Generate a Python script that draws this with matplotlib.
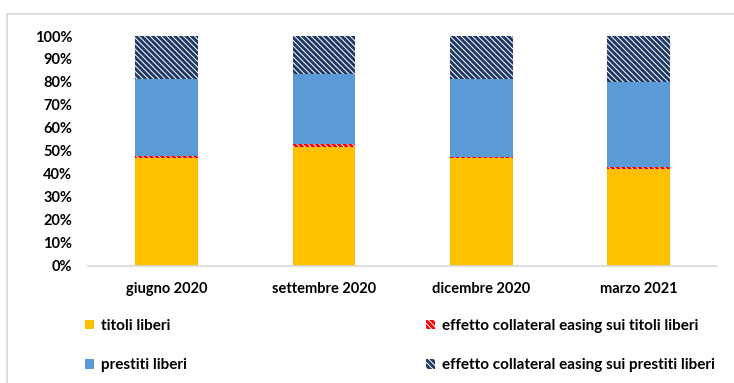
import matplotlib.pyplot as plt
import matplotlib.patches as mpatches
from matplotlib.lines import Line2D
from matplotlib.ticker import PercentFormatter
import numpy as np

plt.rcParams["font.family"] = ["Lato", "DejaVu Sans"]
plt.rcParams["font.weight"] = "bold"
plt.rcParams["hatch.linewidth"] = 2.1

# Composizione percentuale delle attività libere
periodi = ["giugno 2020", "settembre 2020", "dicembre 2020", "marzo 2021"]
titoli_liberi = [47.0, 51.5, 46.7, 42.2]
ce_titoli = [0.8, 1.3, 0.8, 0.7]
prestiti_liberi = [33.4, 30.6, 33.7, 36.9]
ce_prestiti = [18.8, 16.6, 18.8, 20.2]

GIALLO = "#FFC000"
ROSSO = "#FF0000"
AZZURRO = "#5B9BD5"
BLU = "#203864"
GRIGIO = "#D9D9D9"
TRATTEGGIO = "\\" * 6

fig = plt.figure(figsize=(7.34, 3.83), dpi=100)
ax = fig.add_axes([0.12, 0.306, 0.857, 0.600])

x = np.arange(len(periodi))
w = 0.4
tit = np.array(titoli_liberi) / 100
cet = np.array(ce_titoli) / 100
pre = np.array(prestiti_liberi) / 100
cep = np.array(ce_prestiti) / 100

ax.bar(x, tit, w, color=GIALLO, linewidth=0)
ax.bar(x, cet, w, bottom=tit, color="white", edgecolor=ROSSO, hatch=TRATTEGGIO, linewidth=0)
ax.bar(x, pre, w, bottom=tit + cet, color=AZZURRO, linewidth=0)
ax.bar(x, cep, w, bottom=tit + cet + pre, color="white", edgecolor=BLU, hatch=TRATTEGGIO, linewidth=0)

ax.set_xlim(-0.5, 3.5)
ax.set_ylim(0, 1)
ax.set_yticks(np.arange(0, 1.01, 0.1))
ax.yaxis.set_major_formatter(PercentFormatter(1.0, decimals=0))
ax.set_xticks(x)
ax.set_xticklabels(periodi)
ax.tick_params(length=0, labelsize=10.5)
ax.tick_params(axis="x", pad=12)
ax.tick_params(axis="y", pad=11.5)
for s in ["top", "right", "left"]:
    ax.spines[s].set_visible(False)
ax.spines["bottom"].set_color(GRIGIO)
ax.spines["bottom"].set_linewidth(1.2)

# legenda su due colonne
opts = dict(loc="upper left", bbox_transform=fig.transFigure, frameon=False, fontsize=11,
            handlelength=0.6, handleheight=0.6, handletextpad=0.45,
            labelspacing=1.65, borderaxespad=0, borderpad=0)
leg1 = fig.legend(
    [mpatches.Patch(facecolor=GIALLO, linewidth=0),
     mpatches.Patch(facecolor=AZZURRO, linewidth=0)],
    ["titoli liberi", "prestiti liberi"],
    bbox_to_anchor=(85 / 734, 1 - 319 / 383), **opts)
leg2 = fig.legend(
    [mpatches.Patch(facecolor="white", edgecolor=ROSSO, hatch=TRATTEGGIO, linewidth=0),
     mpatches.Patch(facecolor="white", edgecolor=BLU, hatch=TRATTEGGIO, linewidth=0)],
    ["effetto collateral easing sui titoli liberi",
     "effetto collateral easing sui prestiti liberi"],
    bbox_to_anchor=(426 / 734, 1 - 319 / 383), **opts)

# cornice del grafico
fig.add_artist(Line2D([7 / 734, 1], [1 - 14 / 383] * 2, color=GRIGIO, lw=1.2))
fig.add_artist(Line2D([7 / 734] * 2, [0, 1 - 14 / 383], color=GRIGIO, lw=1.2))

fig.savefig("out.png", dpi=100)
